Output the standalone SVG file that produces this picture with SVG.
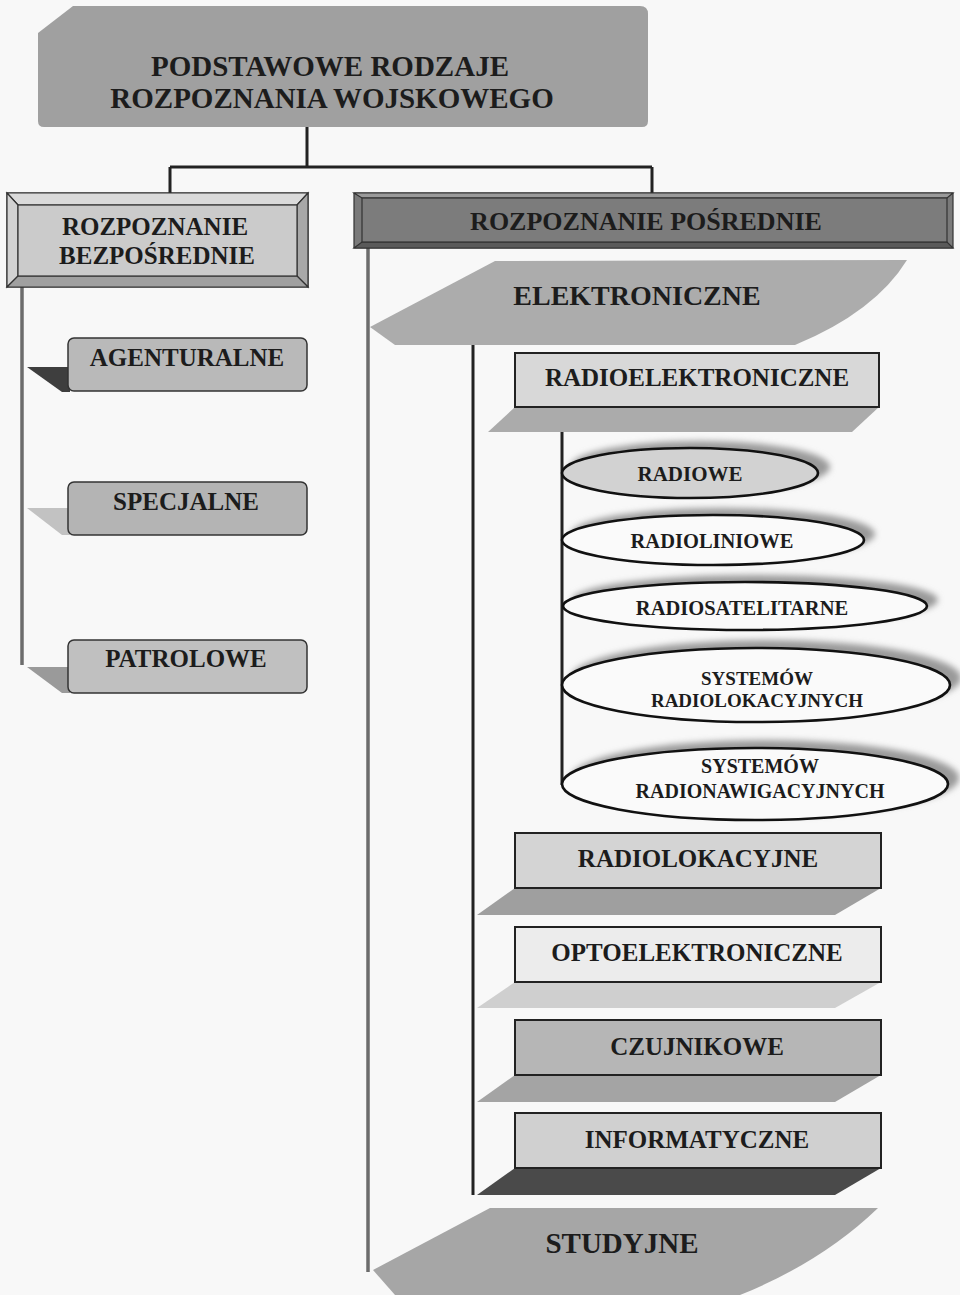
<svg xmlns="http://www.w3.org/2000/svg" width="960" height="1295" viewBox="0 0 960 1295">
<defs>
<style>
text{font-family:"Liberation Serif","Times New Roman",serif;font-weight:bold;fill:#1c1c1c;text-anchor:middle}
.conn{fill:none;stroke:#222;stroke-width:3}
.connG{fill:none;stroke:#6c6c6c;stroke-width:3.5}
.box{stroke:#222;stroke-width:2}
.rbox{stroke:#333;stroke-width:1.5}
.ell{stroke:#111;stroke-width:2.6}
.esh{fill:#9a9a9a;filter:url(#blur)}
.fr{stroke:#333;stroke-width:1.2}
</style>
<filter id="blur" x="-20%" y="-50%" width="140%" height="200%"><feGaussianBlur stdDeviation="3"/></filter>
</defs>
<rect width="960" height="1295" fill="#f8f8f8"/>

<g id="connectors">
<path class="conn" d="M307,127 V167 M170,167 H652 M170,167 V193 M652,167 V193"/>
<path class="connG" d="M22,287 V665"/>
<path class="connG" d="M368,248 V1272"/>
<path class="conn" d="M473,345 V1195"/>
<path class="conn" d="M562,432 V785"/>
</g>

<g id="root">
<path d="M38,33 L73,6 L640,6 Q648,6 648,14 L648,121 Q648,127 642,127 L44,127 Q38,127 38,121 Z" fill="#a0a0a0"/>
<text x="330" y="76" font-size="29">PODSTAWOWE RODZAJE</text>
<text x="332" y="108" font-size="29">ROZPOZNANIA WOJSKOWEGO</text>
</g>

<g id="bezposrednie">
<rect x="7" y="193" width="301" height="94" fill="#c8c8c8" class="fr"/>
<polygon points="7,193 308,193 297,205 18,205" fill="#dadada" class="fr"/>
<polygon points="7,193 18,205 18,276 7,287" fill="#d2d2d2" class="fr"/>
<polygon points="308,193 297,205 297,276 308,287" fill="#a8a8a8" class="fr"/>
<polygon points="7,287 18,276 297,276 308,287" fill="#a0a0a0" class="fr"/>
<rect x="18" y="205" width="279" height="71" fill="#cbcbcb" class="fr"/>
<text x="155" y="235" font-size="25">ROZPOZNANIE</text>
<text x="157" y="264" font-size="25">BEZPOŚREDNIE</text>
</g>

<g id="posrednie">
<rect x="354" y="193" width="599" height="55" fill="#7a7a7a" class="fr"/>
<polygon points="354,193 953,193 947,198 362,198" fill="#9a9a9a" class="fr"/>
<polygon points="354,248 362,242 947,242 953,248" fill="#5a5a5a" class="fr"/>
<rect x="362" y="198" width="585" height="44" fill="#7c7c7c" class="fr"/>
<text x="646" y="230" font-size="26">ROZPOZNANIE POŚREDNIE</text>
</g>

<g id="agenturalne">
<polygon points="27,367 70,367 70,392 62,392" fill="#3e3e3e"/>
<rect x="68" y="338" width="239" height="53" rx="6" fill="#b9b9b9" class="rbox"/>
<text x="187" y="366" font-size="25">AGENTURALNE</text>
</g>
<g id="specjalne">
<polygon points="27,508 70,508 70,535 62,535" fill="#c2c2c2"/>
<rect x="68" y="482" width="239" height="53" rx="6" fill="#b4b4b4" class="rbox"/>
<text x="186" y="510" font-size="25">SPECJALNE</text>
</g>
<g id="patrolowe">
<polygon points="27,667 70,667 70,693 62,693" fill="#9a9a9a"/>
<rect x="68" y="640" width="239" height="53" rx="6" fill="#c0c0c0" class="rbox"/>
<text x="186" y="667" font-size="25">PATROLOWE</text>
</g>

<g id="elektroniczne">
<path d="M495,261 L907,260 Q875,312 795,345 L395,345 L370,327 Z" fill="#acacac"/>
<text x="637" y="305" font-size="28">ELEKTRONICZNE</text>
</g>

<g id="radioelektroniczne">
<polygon points="515,407 879,407 852,432 488,432" fill="#ababab"/>
<rect x="515" y="353" width="364" height="54" fill="#d8d8d8" class="box"/>
<text x="697" y="386" font-size="25">RADIOELEKTRONICZNE</text>
</g>

<g id="radiowe">
<ellipse class="esh" cx="700" cy="467" rx="130" ry="26"/>
<ellipse class="ell" cx="690" cy="473" rx="128" ry="25" fill="#d2d2d2"/>
<text x="690" y="481" font-size="21">RADIOWE</text>
</g>
<g id="radioliniowe">
<ellipse class="esh" cx="723" cy="534" rx="152" ry="26"/>
<ellipse class="ell" cx="713" cy="540" rx="151" ry="25" fill="#fafafa"/>
<text x="712" y="548" font-size="20.5">RADIOLINIOWE</text>
</g>
<g id="radiosatelitarne">
<ellipse class="esh" cx="755" cy="600" rx="183" ry="25"/>
<ellipse class="ell" cx="745" cy="606" rx="182" ry="24" fill="#fafafa"/>
<text x="742" y="615" font-size="20.5">RADIOSATELITARNE</text>
</g>
<g id="sys_radiolokacyjnych">
<ellipse class="esh" cx="766" cy="678" rx="195" ry="38"/>
<ellipse class="ell" cx="756" cy="685" rx="194" ry="37" fill="#fafafa"/>
<text x="757" y="685" font-size="19">SYSTEMÓW</text>
<text x="757" y="707" font-size="19">RADIOLOKACYJNYCH</text>
</g>
<g id="sys_radionawigacyjnych">
<ellipse class="esh" cx="765" cy="778" rx="194" ry="38"/>
<ellipse class="ell" cx="755" cy="784" rx="193" ry="36" fill="#fafafa"/>
<text x="760" y="773" font-size="20">SYSTEMÓW</text>
<text x="760" y="798" font-size="20">RADIONAWIGACYJNYCH</text>
</g>

<g id="radiolokacyjne">
<polygon points="515,888 881,888 835,915 477,915" fill="#9f9f9f"/>
<rect x="515" y="833" width="366" height="55" fill="#d4d4d4" class="box"/>
<text x="698" y="867" font-size="25">RADIOLOKACYJNE</text>
</g>
<g id="optoelektroniczne">
<polygon points="515,982 881,982 835,1008 477,1008" fill="#cfcfcf"/>
<rect x="515" y="927" width="366" height="55" fill="#ececec" class="box"/>
<text x="697" y="961" font-size="25">OPTOELEKTRONICZNE</text>
</g>
<g id="czujnikowe">
<polygon points="515,1075 881,1075 835,1102 477,1102" fill="#a4a4a4"/>
<rect x="515" y="1020" width="366" height="55" fill="#b6b6b6" class="box"/>
<text x="697" y="1055" font-size="25">CZUJNIKOWE</text>
</g>
<g id="informatyczne">
<polygon points="515,1168 881,1168 835,1195 477,1195" fill="#4a4a4a"/>
<rect x="515" y="1113" width="366" height="55" fill="#d0d0d0" class="box"/>
<text x="697" y="1148" font-size="25">INFORMATYCZNE</text>
</g>

<g id="studyjne">
<path d="M490,1208 L878,1208 Q822,1262 740,1295 L395,1295 L373,1270 Z" fill="#a6a6a6"/>
<text x="622" y="1253" font-size="29">STUDYJNE</text>
</g>
</svg>
